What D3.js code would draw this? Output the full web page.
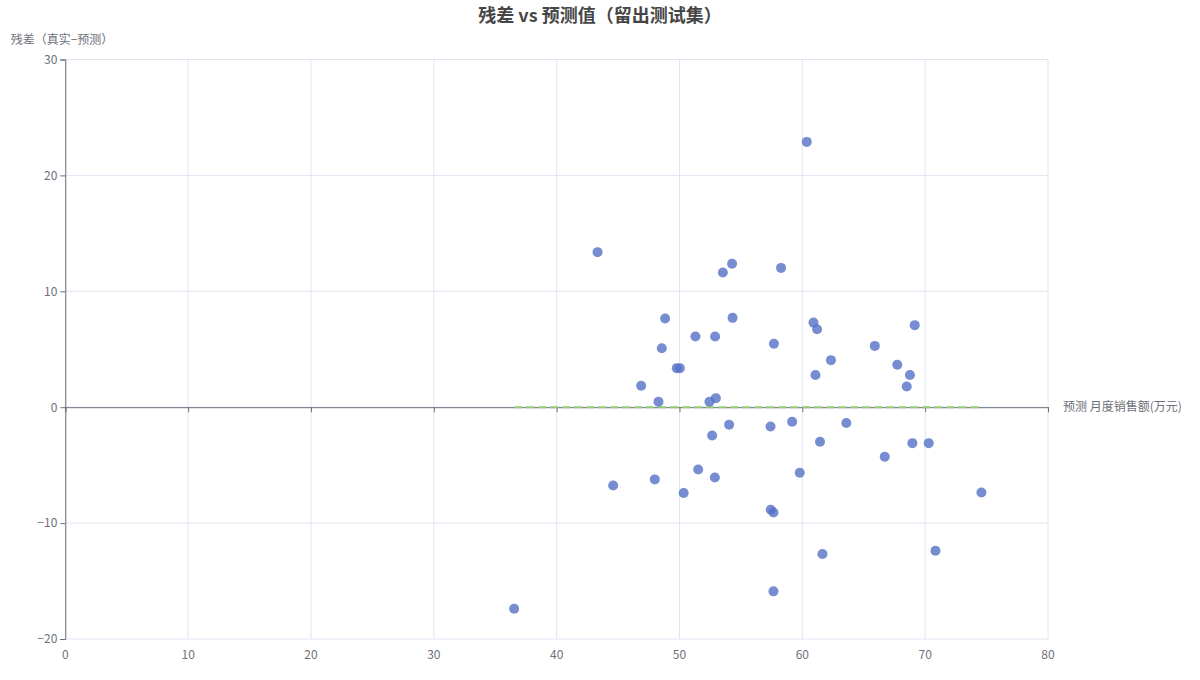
<!DOCTYPE html>
<html>
<head>
<meta charset="utf-8">
<title>残差 vs 预测值</title>
<style>
  body { margin: 0; background: #fff; }
  text { font-family: "Noto Sans CJK SC", "Noto Sans", sans-serif; }
</style>
</head>
<body>
<script src="https://d3js.org/d3.v7.min.js"></script>
<div id="chart"></div>
<script>
// predicted value (x) and residual (y) for each test point
var predicted = [60.36, 43.33, 54.28, 53.53, 58.27, 48.83, 54.32, 60.91, 61.20, 69.15,
                 51.30, 52.90, 48.56, 57.69, 65.90, 62.33, 49.78, 50.03, 67.73, 61.07,
                 68.76, 46.88, 68.50, 48.29, 52.96, 52.44, 54.04, 57.41, 59.17, 63.58,
                 52.66, 61.44, 68.96, 70.29, 66.71, 51.52, 59.79, 44.60, 47.99, 52.88,
                 50.34, 74.58, 57.43, 57.65, 70.84, 61.64, 57.65, 36.54];
var residual = [22.89, 13.38, 12.37, 11.62, 12.02, 7.65, 7.71, 7.30, 6.73, 7.08,
                6.10, 6.10, 5.08, 5.47, 5.29, 4.06, 3.37, 3.37, 3.66, 2.78,
                2.78, 1.85, 1.79, 0.47, 0.78, 0.47, -1.52, -1.66, -1.26, -1.37,
                -2.44, -2.98, -3.10, -3.10, -4.28, -5.37, -5.66, -6.75, -6.23, -6.06,
                -7.41, -7.36, -8.85, -9.08, -12.38, -12.67, -15.89, -17.39];
var xTicks = [0, 10, 20, 30, 40, 50, 60, 70, 80];
var yTicks = [-20, -10, 0, 10, 20, 30];

const width = 1200, height = 680,
      margin = {top: 59.5, right: 152, bottom: 41, left: 65.3};

var svg = d3.select("#chart").append("svg")
    .attr("width", width)
    .attr("height", height);

var x = d3.scaleLinear().domain([0, 80]).range([margin.left, width - margin.right]);
var y = d3.scaleLinear().domain([-20, 30]).range([height - margin.bottom, margin.top]);

// grid
svg.append("g").selectAll("line.gx")
    .data(xTicks).enter().append("line")
    .attr("x1", d => x(d)).attr("x2", d => x(d))
    .attr("y1", y(30)).attr("y2", y(-20))
    .attr("stroke", "#E0E6F1");
svg.append("g").selectAll("line.gy")
    .data(yTicks).enter().append("line")
    .attr("x1", x(0)).attr("x2", x(80))
    .attr("y1", d => y(d)).attr("y2", d => y(d))
    .attr("stroke", "#E0E6F1");

// x labels at bottom
svg.append("g").selectAll("text")
    .data(xTicks).enter().append("text")
    .attr("x", d => x(d)).attr("y", y(-20) + 20)
    .attr("text-anchor", "middle")
    .attr("font-size", 12).attr("fill", "#6E7079")
    .text(d => d);

// x axis line on zero
var xAxis = svg.append("g")
    .attr("transform", "translate(0," + y(0) + ")")
    .call(d3.axisBottom(x).tickValues(xTicks).tickSize(5).tickFormat(""));
xAxis.select(".domain").attr("stroke", "#6E7079");
xAxis.selectAll(".tick line").attr("stroke", "#6E7079");

// y axis
var yAxis = svg.append("g")
    .attr("transform", "translate(" + x(0) + ",0)")
    .call(d3.axisLeft(y).tickValues(yTicks).tickSize(5).tickPadding(3));
yAxis.select(".domain").attr("stroke", "#6E7079");
yAxis.selectAll(".tick line").attr("stroke", "#6E7079");
yAxis.selectAll(".tick text")
    .attr("font-size", 12).attr("fill", "#6E7079")
    .style("font-family", "'Noto Sans CJK SC', 'Noto Sans', sans-serif");

// zero reference line over prediction range
svg.append("line")
    .attr("x1", x(d3.min(predicted))).attr("x2", x(d3.max(predicted)))
    .attr("y1", y(0)).attr("y2", y(0))
    .attr("stroke", "#91cc75").attr("stroke-width", 2)
    .attr("stroke-dasharray", "8,4");

// points
svg.append("g").selectAll("circle")
    .data(predicted).enter().append("circle")
    .attr("cx", d => x(d))
    .attr("cy", (d, i) => y(residual[i]))
    .attr("r", 5)
    .attr("fill", "#5470c6")
    .attr("fill-opacity", 0.8);

// title and axis names
svg.append("text")
    .attr("x", 600).attr("y", 22)
    .attr("text-anchor", "middle")
    .attr("font-size", 18).attr("font-weight", "bold").attr("fill", "#464646")
    .text("残差 vs 预测值（留出测试集）");

svg.append("text")
    .attr("x", 62).attr("y", 44)
    .attr("text-anchor", "middle")
    .attr("font-size", 12).attr("fill", "#6E7079")
    .text("残差（真实−预测）");

svg.append("text")
    .attr("x", x(80) + 15).attr("y", y(0) + 4)
    .attr("font-size", 12).attr("fill", "#6E7079")
    .text("预测 月度销售额(万元)");
</script>
</body>
</html>
